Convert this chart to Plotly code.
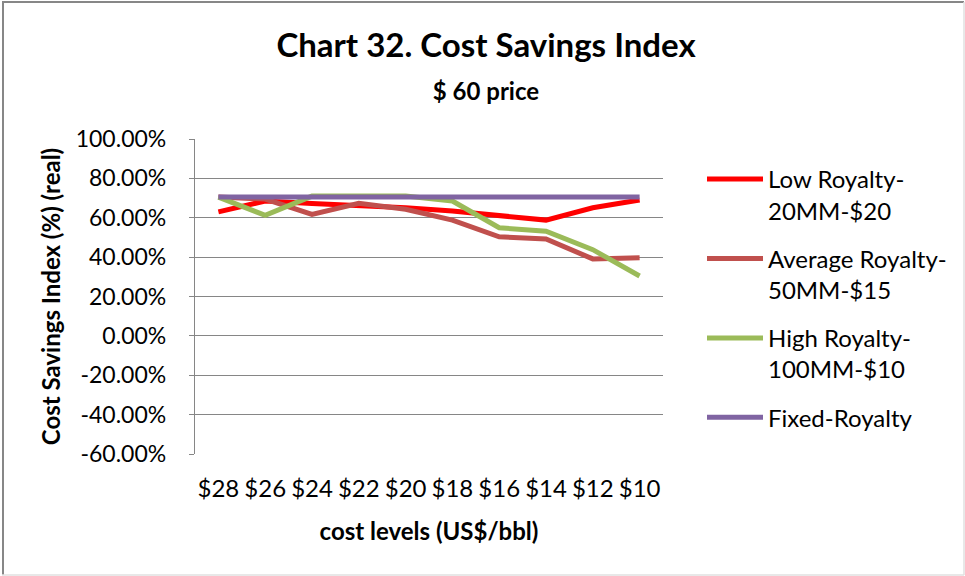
import plotly.graph_objects as go

cost_levels = ["$28", "$26", "$24", "$22", "$20", "$18", "$16", "$14", "$12", "$10"]
low_royalty = [0.630, 0.685, 0.673, 0.663, 0.651, 0.634, 0.612, 0.588, 0.651, 0.690]
avg_royalty = [0.705, 0.695, 0.617, 0.673, 0.643, 0.588, 0.503, 0.492, 0.391, 0.397]
high_royalty = [0.705, 0.612, 0.710, 0.710, 0.710, 0.685, 0.549, 0.532, 0.438, 0.304]
fixed_royalty = [0.705, 0.705, 0.705, 0.705, 0.705, 0.705, 0.705, 0.705, 0.705, 0.705]

y_tick_values = [-0.6, -0.4, -0.2, 0.0, 0.2, 0.4, 0.6, 0.8, 1.0]
y_tick_labels = ["-60.00%", "-40.00%", "-20.00%", "0.00%", "20.00%", "40.00%", "60.00%", "80.00%", "100.00%"]

series_names = ["Low Royalty-<br>20MM-$20", "Average Royalty-<br>50MM-$15",
                "High Royalty-<br>100MM-$10", "Fixed-Royalty"]
series_values = [low_royalty, avg_royalty, high_royalty, fixed_royalty]
series_colors = ["#FF0000", "#C0504D", "#9BBB59", "#8064A2"]

FONT = "Lato"
GRID = "#868686"

fig = go.Figure()
for i, (name, vals, col) in enumerate(zip(series_names, series_values, series_colors)):
    fig.add_trace(go.Scatter(x=cost_levels, y=vals, name=name, mode="lines",
                             legendgroup="g%d" % i,
                             line=dict(color=col, width=5)))

W, H = 965, 576
L, R, T, B = 195, 302, 139, 122
pw, ph = W - L - R, H - T - B

def px_x(v):
    return (v - L) / pw

def px_y(v):
    return (H - B - v) / ph

fig.update_layout(
    width=W, height=H,
    margin=dict(l=L, r=R, t=T, b=B, autoexpand=False),
    paper_bgcolor="white", plot_bgcolor="white",
    font=dict(family=FONT, color="black"),
    title=dict(text="<b>Chart 32. Cost Savings Index</b><br><span style='font-size:24px'><b>$ 60 price</b></span>",
               x=486 / W, xref="container", xanchor="center", y=1 - 57 / H, yanchor="top",
               font=dict(size=33, family=FONT)),
    showlegend=True,
    legend=dict(x=px_x(702), y=px_y(157), xanchor="left", yanchor="top",
                font=dict(size=24, family=FONT), valign="top",
                tracegroupgap=14, itemwidth=56, bgcolor="rgba(0,0,0,0)"),
    xaxis=dict(type="category", categoryorder="array", categoryarray=cost_levels,
               showgrid=False, zeroline=False, showline=False, ticks="", automargin=False,
               tickfont=dict(size=24, family=FONT), ticklabelstandoff=18,
               title=dict(text="<b>cost levels (US$/bbl)</b>", font=dict(size=24, family=FONT), standoff=22),
               range=[-0.5, 9.5]),
    xaxis2=dict(overlaying="x", anchor="free", position=0.375, range=[-0.5, 9.5],
                tickvals=[-0.5, 0.5, 1.5, 2.5, 3.5, 4.5, 5.5, 6.5, 7.5, 8.5, 9.5],
                showticklabels=False, ticks="outside", ticklen=5, tickwidth=1.3,
                tickcolor=GRID, showgrid=False, zeroline=False, showline=True,
                linecolor=GRID, linewidth=1.3),
    yaxis=dict(range=[-0.6, 1.0], tickmode="array", tickvals=y_tick_values, ticktext=y_tick_labels,
               showgrid=True, gridcolor=GRID, gridwidth=1.3, automargin=False,
               zeroline=True, zerolinecolor=GRID, zerolinewidth=1.3,
               showline=True, linecolor=GRID, linewidth=1.3,
               ticks="outside", ticklen=5, tickwidth=1.3, tickcolor=GRID,
               tickfont=dict(size=23, family=FONT), ticklabelstandoff=18,
               title=dict(text="<b>Cost Savings Index (%) (real)</b>", font=dict(size=24, family=FONT), standoff=8)),
    shapes=[
        dict(type="line", xref="paper", yref="paper", x0=px_x(3), x1=px_x(3), y0=px_y(2), y1=px_y(575),
             line=dict(color="#878787", width=2)),
        dict(type="line", xref="paper", yref="paper", x0=px_x(2), x1=px_x(964), y0=px_y(2), y1=px_y(2),
             line=dict(color="#878787", width=2)),
        dict(type="line", xref="paper", yref="paper", x0=px_x(964), x1=px_x(964), y0=px_y(2), y1=px_y(575),
             line=dict(color="#e0e0e0", width=1.5)),
        dict(type="line", xref="paper", yref="paper", x0=px_x(2), x1=px_x(964), y0=px_y(575), y1=px_y(575),
             line=dict(color="#e0e0e0", width=1.5)),
    ],
)

fig.write_html("out.html", config={"displayModeBar": False},
               post_script="document.body.style.margin='0';document.body.style.overflow='hidden';")
